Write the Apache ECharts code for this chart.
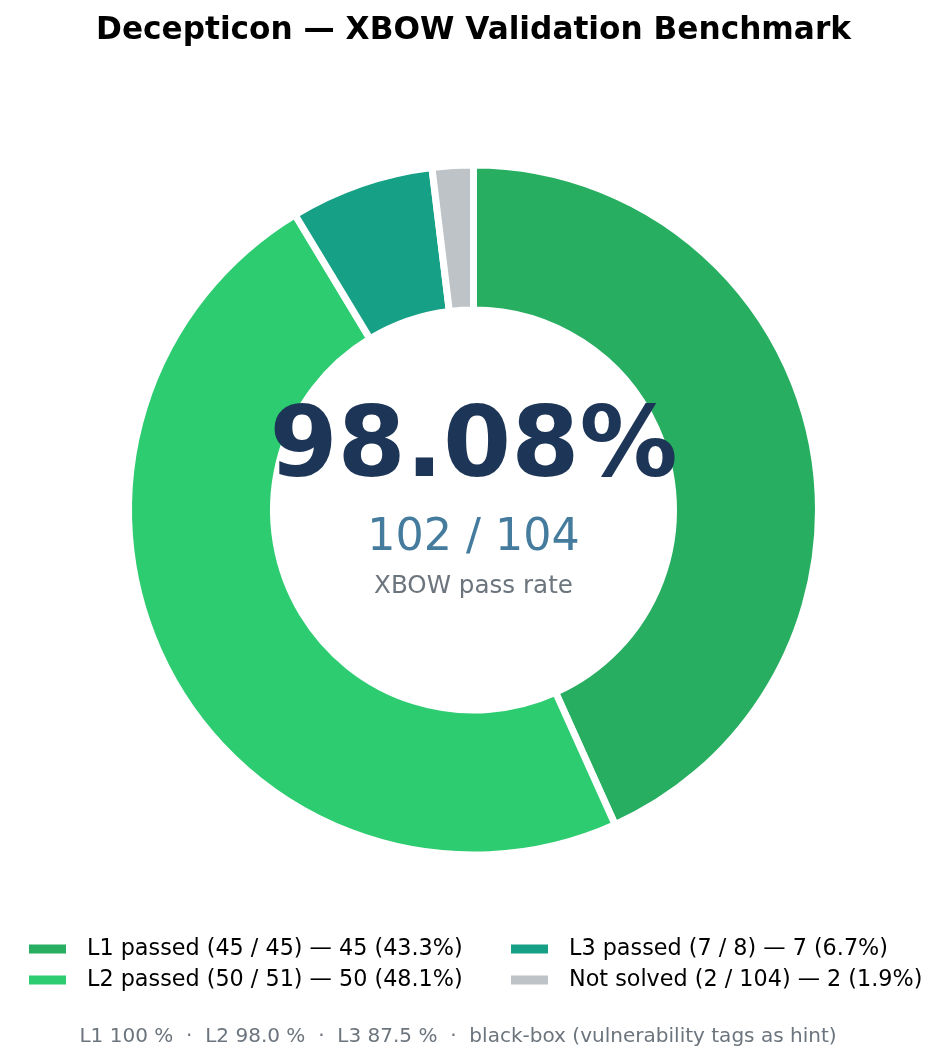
<!DOCTYPE html>
<html><head><meta charset="utf-8">
<style>html,body{margin:0;padding:0;background:#fff}#c{width:946px;height:1062px}</style>
<script src="https://cdn.jsdelivr.net/npm/echarts@6/dist/echarts.min.js"></script>
</head><body><div id="c"></div>
<script>
const names = ["L1 passed (45 / 45) — 45 (43.3%)","L2 passed (50 / 51) — 50 (48.1%)","L3 passed (7 / 8) — 7 (6.7%)","Not solved (2 / 104) — 2 (1.9%)"];
const values = [45,50,7,2];
const colors = ["#27ae60","#2ecc71","#16a085","#bdc3c7"];
const titleText = "Decepticon — XBOW Validation Benchmark";
const centerBig = "98.08%";
const centerMid = "102 / 104";
const centerSmall = "XBOW pass rate";
const footnote = "L1 100 %  ·  L2 98.0 %  ·  L3 87.5 %  ·  black-box (vulnerability tags as hint)";
const F = "DejaVu Sans";
const chart = echarts.init(document.getElementById('c'),null,{renderer:'canvas'});
const t=(text,y,size,color,weight,x)=>({text,left:x||473.5,top:y,textAlign:'center',padding:0,
  textStyle:{fontFamily:F,fontSize:size,color,fontWeight:weight||'normal',lineHeight:size*1.2}});
const leg=(data,left)=>({data,left,top:936,orient:'vertical',itemWidth:37,itemHeight:9,itemGap:5,padding:0,selectedMode:false,icon:'rect',
  itemStyle:{borderWidth:0},
  textStyle:{fontFamily:F,fontSize:22.3,color:'#000',padding:[0,0,0,16],lineHeight:26}});
chart.setOption({
  animation:false,
  backgroundColor:'#fff',
  title:[
    t(titleText,12,31.2,'#000','bold'),
    t(centerBig,392,98,'#1d3557','bold'),
    t(centerMid,512,44.4,'#457b9d'),
    t(centerSmall,572,24.6,'#6c757d'),
    t(footnote,1025,20.05,'#6c757d','normal',458)
  ],
  legend:[leg(names.slice(0,2),29),leg(names.slice(2),511)],
  series:[{
    type:'pie',center:[473.5,510],radius:[200,345],startAngle:90,clockwise:true,
    label:{show:false},labelLine:{show:false},silent:true,
    itemStyle:{borderColor:'#fff',borderWidth:7},
    data:names.map((n,i)=>({name:n,value:values[i],itemStyle:{color:colors[i]}}))
  }]
});
</script></body></html>
